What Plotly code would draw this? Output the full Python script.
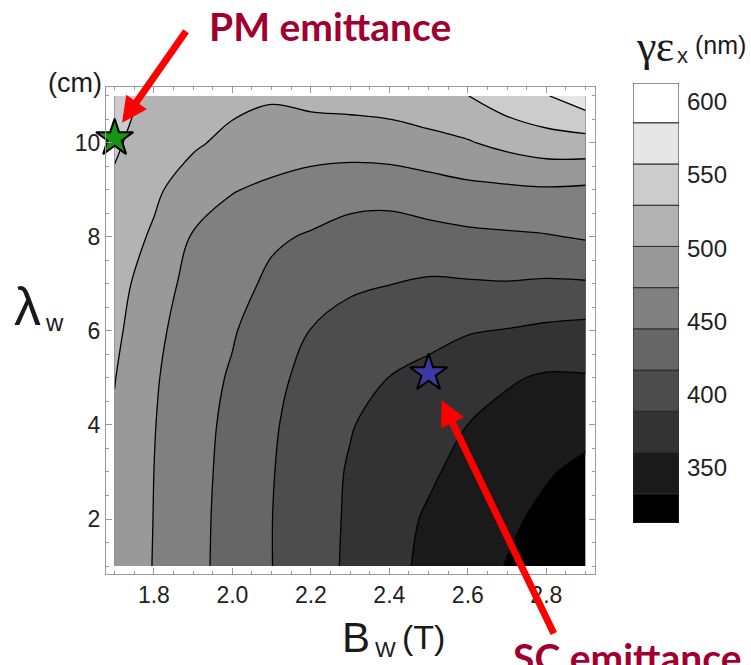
import plotly.graph_objects as go

# ---------------- data ----------------
b_w = [1.7, 1.8, 1.9, 2.0, 2.1, 2.2, 2.3, 2.4, 2.5, 2.6, 2.7, 2.8, 2.9]   # T
lambda_w = [1, 2, 3, 4, 5, 6, 7, 8, 9, 10, 11]                           # cm

# emittance (nm) rows: one list per lambda_w value, across b_w
emit_l1 = [492, 472, 453, 434, 417, 400, 384, 368, 354, 343, 331, 322, 315]
emit_l2 = [494, 472.5, 453, 435, 417, 400, 385, 370, 357, 345, 336, 327, 319]
emit_l3 = [496, 473, 454, 436, 418, 401, 386, 373, 364, 352, 344, 334, 327]
emit_l4 = [498.5, 474, 455, 438, 420, 403, 390, 378, 373, 360, 352, 345, 339]
emit_l5 = [502, 476, 456, 442, 424, 408, 398, 388, 381, 372, 363, 357, 358]
emit_l6 = [507, 480, 459, 447, 430, 416, 408, 401, 396, 390, 387, 383, 380]
emit_l7 = [512, 486, 464, 455, 439, 427, 420, 417, 413, 414, 415, 413, 414]
emit_l8 = [518, 497, 471, 463, 449, 442, 434, 432, 436, 439, 441, 443, 447]
emit_l9 = [525, 507, 484, 474, 469, 462, 456, 455, 460, 466, 468, 470, 468]
emit_l10 = [533, 516, 506, 492, 484, 484, 485, 488, 494, 499, 509, 517, 518]
emit_l11 = [542, 522, 515, 511, 505, 510, 512, 514, 518, 529, 545, 556, 575]
emit = [emit_l1, emit_l2, emit_l3, emit_l4, emit_l5, emit_l6,
        emit_l7, emit_l8, emit_l9, emit_l10, emit_l11]

contour_levels = [332, 360.2, 388.4, 416.6, 444.8, 473.0, 501.2, 529.4, 557.6, 585.8]
cbar_min, cbar_max = 312, 613
cbar_ticks = [350, 400, 450, 500, 550, 600]

x_ticks = [1.8, 2.0, 2.2, 2.4, 2.6, 2.8]
y_ticks = [2, 4, 6, 8, 10]

pm_point = ([1.7], [10.1])   # PM emittance (B_w, lambda_w)
sc_point = ([2.5], [5.1])    # SC emittance

# ---------------- layout helpers ----------------
W, H = 751, 665
L, R, T, B = 106, 72, 83, 91
PW, PH = W - L - R, H - T - B


def fx(xp):
    return (xp - L) / PW


def fy(yp):
    return (H - B - yp) / PH


n_bands = len(contour_levels) + 1
grays = ["rgb({0},{0},{0})".format(round(255 * i / (n_bands - 1))) for i in range(n_bands)]
edges = [cbar_min] + contour_levels + [cbar_max]
bar_base = edges[:-1]
bar_h = [edges[i + 1] - edges[i] for i in range(n_bands)]

fig = go.Figure()

fig.add_trace(go.Contour(
    x=b_w, y=lambda_w, z=emit,
    autocontour=False,
    contours=dict(start=contour_levels[0], end=contour_levels[-1],
                  size=round(contour_levels[1] - contour_levels[0], 6),
                  coloring="fill", showlines=True),
    colorscale=[[0, "rgb(0,0,0)"], [1, "rgb(255,255,255)"]],
    line=dict(color="black", width=1.3, smoothing=1),
    showscale=False, hoverinfo="skip",
))

fig.add_trace(go.Scatter(
    x=pm_point[0], y=pm_point[1], mode="markers",
    marker=dict(symbol="star", size=28, color="#169416",
                line=dict(color="black", width=2)),
    cliponaxis=False, showlegend=False, hoverinfo="skip",
))
fig.add_trace(go.Scatter(
    x=sc_point[0], y=sc_point[1], mode="markers",
    marker=dict(symbol="star", size=28, color="#3a3aa2",
                line=dict(color="black", width=2)),
    cliponaxis=False, showlegend=False, hoverinfo="skip",
))

# custom colour bar
fig.add_trace(go.Bar(
    x=[0] * n_bands, y=bar_h, base=bar_base, width=1,
    marker=dict(color=grays, line=dict(color="#2a2a2a", width=1)),
    xaxis="x2", yaxis="y2", showlegend=False, hoverinfo="skip",
))

sans = "Liberation Sans, Arial, sans-serif"
line_gray = "#9a9a9a"

fig.update_layout(
    width=W, height=H,
    margin=dict(l=L, r=R, t=T, b=B, pad=0),
    paper_bgcolor="white", plot_bgcolor="white",
    showlegend=False,
    xaxis=dict(domain=[0, fx(595)], range=[1.678, 2.924], tickvals=x_ticks,
               ticktext=["%.1f" % v for v in x_ticks],
               tickfont=dict(family="Liberation Sans", size=23, color="#222"),
               showgrid=False, zeroline=False, showline=True, linecolor=line_gray,
               linewidth=1, mirror="ticks", ticks="inside", ticklen=6, tickcolor=line_gray,
               minor=dict(ticks="inside", ticklen=3, dtick=0.05, tick0=1.7,
                          tickcolor=line_gray)),
    yaxis=dict(domain=[0, fy(87)], range=[0.83, 11.19], tickvals=y_ticks,
               tickfont=dict(family="Liberation Sans", size=23, color="#222"),
               showgrid=False, zeroline=False, showline=True, linecolor=line_gray,
               linewidth=1, mirror="ticks", ticks="inside", ticklen=6, tickcolor=line_gray,
               minor=dict(ticks="inside", ticklen=3, dtick=0.5, tick0=1,
                          tickcolor=line_gray)),
    xaxis2=dict(domain=[fx(633), 1], range=[-0.5, 0.5], visible=False, anchor="y2"),
    yaxis2=dict(domain=[fy(523), 1], range=[cbar_min, cbar_max], anchor="x2",
                side="right", tickvals=cbar_ticks, ticks="", showline=False,
                showgrid=False, zeroline=False, ticklabelstandoff=7,
                tickfont=dict(family=sans, size=24, color="#222")),
)

ann = []


def txt(s, xp, yp, size, family=sans, color="#1a1a1a", xa="center", ya="middle", weight=None):
    f = dict(family=family, size=size, color=color)
    if weight:
        f["weight"] = weight
    ann.append(dict(text=s, x=fx(xp), y=fy(yp), xref="paper", yref="paper",
                    xanchor=xa, yanchor=ya, showarrow=False, font=f))


# axis titles
txt("λ", 27, 306, 54)
txt("w", 54, 322, 24)
txt("(cm)", 75, 83, 27)
txt("B", 356, 637, 42)
txt("W", 385, 649, 22)
txt("(T)", 423, 637, 34)
# colour bar title
txt("γε", 655, 47, 44, family="Liberation Serif, serif")
txt("x", 682, 56, 22)
txt("(nm)", 720, 45, 25)

# callouts
red_txt = "#a1002e"
txt("PM emittance", 330, 26, 39, family="Lato, sans-serif", color=red_txt, weight="bold")
txt("SC emittance", 511, 632, 39, family="Lato, sans-serif", color=red_txt,
    xa="left", ya="top", weight="bold")

# arrows
ann.append(dict(x=1.719, y=10.43, xref="x", yref="y", ax=65, ay=-93,
                axref="pixel", ayref="pixel", text="", showarrow=True,
                arrowhead=2, arrowsize=0.72, arrowwidth=7, arrowcolor="#ff0000"))
ann.append(dict(x=2.533, y=4.53, xref="x", yref="y", ax=113, ay=235,
                axref="pixel", ayref="pixel", text="", showarrow=True,
                arrowhead=2, arrowsize=0.72, arrowwidth=7, arrowcolor="#ff0000"))

fig.update_layout(annotations=ann)

fig.write_html("out.html")
